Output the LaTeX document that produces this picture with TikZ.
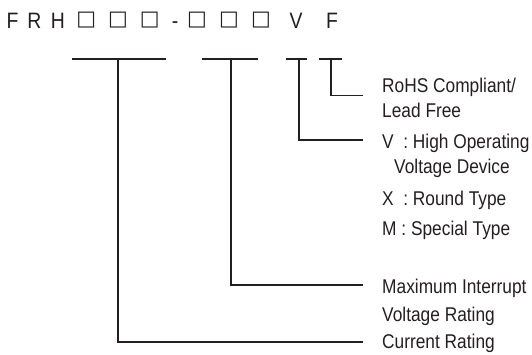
\documentclass[tikz,border=0pt]{standalone}
\usepackage{graphicx}
\usepackage{fontspec}
\setmainfont{Liberation Sans}[FakeStretch=0.87]
\newfontfamily\boxfont{DejaVu Sans}
\definecolor{ink}{HTML}{231F20}
\newcommand{\sqglyph}{\resizebox*{!}{16pt}{\boxfont □}}
\begin{document}
\begin{tikzpicture}[x=1pt,y=-1pt]
\tikzset{
  hd/.style={anchor=base, inner sep=0pt, text=ink, font=\fontsize{22.3}{23}\selectfont},
  bx/.style={anchor=center, inner sep=0pt, text=ink},
  lbl/.style={anchor=base west, inner sep=0pt, text=ink, font=\fontsize{19.9}{20}\selectfont},
  ln/.style={draw=ink, line width=1.5pt}
}
\useasboundingbox (0,0) rectangle (532,354);
% header characters
\node[hd] (cF) at (12.5,28.3) {F};
\node[hd] (cR) at (34.5,28.3) {R};
\node[hd] (cH) at (58,28.3) {H};
\node[bx] (b1) at (86.3,20.3) {\sqglyph};
\node[bx] (b2) at (118,20.3) {\sqglyph};
\node[bx] (b3) at (149.7,20.3) {\sqglyph};
\node[hd] (cD) at (175,28.3) {-};
\node[bx] (b4) at (197,20.3) {\sqglyph};
\node[bx] (b5) at (229,20.3) {\sqglyph};
\node[bx] (b6) at (261,20.3) {\sqglyph};
\node[hd] (cV) at (296,28.3) {V};
\node[hd] (cF2) at (332,28.3) {F};
% bars
\coordinate (a1) at (72,59);  \coordinate (a2) at (166,59);
\coordinate (d1) at (202,59); \coordinate (d2) at (258,59);
\coordinate (e1) at (286,59); \coordinate (e2) at (307,59);
\coordinate (f1) at (319,59); \coordinate (f2) at (342,59);
\coordinate (at) at (118,59);
\coordinate (dt) at (231,59);
\coordinate (et) at (299,59);
\coordinate (ft) at (331,59);
% labels
\node[lbl] (l1) at (382,92.5) {RoHS Compliant/};
\node[lbl] (l2) at (382,117) {Lead Free};
\node[lbl] (l3) at (382,148) {V\ \ : High Operating};
\node[lbl] (l4) at (394,173) {Voltage Device};
\node[lbl] (l5) at (382,205.5) {X\ \ : Round Type};
\node[lbl] (l6) at (382,235) {M : Special Type};
\node[lbl] (l7) at (382,293) {Maximum Interrupt};
\node[lbl] (l8) at (382,321) {Voltage Rating};
\node[lbl] (l9) at (382,348) {Current Rating};
% end points of leaders
\coordinate (fe) at (363,95.5);
\coordinate (ee) at (363,140);
\coordinate (de) at (363,285);
\coordinate (ae) at (363,342);
% draw
\draw[ln] (a1) -- (a2);
\draw[ln] (d1) -- (d2);
\draw[ln] (e1) -- (e2);
\draw[ln] (f1) -- (f2);
\draw[ln] (at) |- (ae);
\draw[ln] (dt) |- (de);
\draw[ln] (et) |- (ee);
\draw[ln] (ft) |- (fe);
\end{tikzpicture}
\end{document}
